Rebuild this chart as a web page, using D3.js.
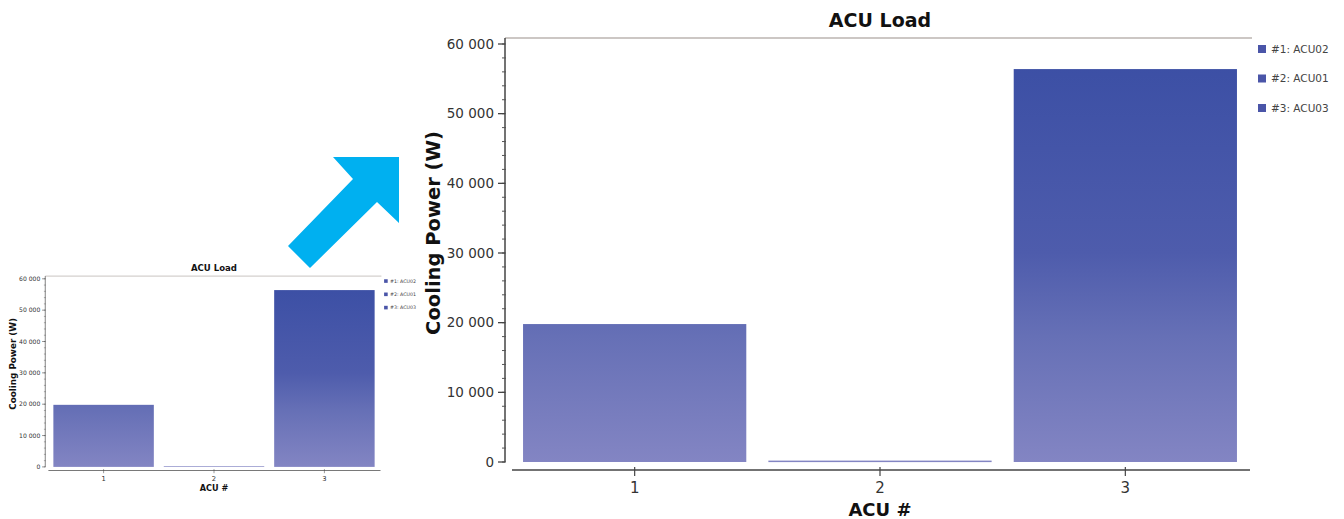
<!DOCTYPE html>
<html>
<head>
<meta charset="utf-8">
<script src="https://cdn.jsdelivr.net/npm/d3@7"></script>
<style>
  html, body { margin: 0; padding: 0; background: #fff; }
  svg { display: block; font-family: "DejaVu Sans", sans-serif; }
</style>
</head>
<body>
<svg id="chart" width="1344" height="519"></svg>
<script>
const categories = ["1", "2", "3"];
const coolingPower = [19800, 200, 56400];
const legendLabels = ["#1: ACU02", "#2: ACU01", "#3: ACU03"];
const yMax = 60000;
const chartTitle = "ACU Load";
const xTitle = "ACU #";
const yTitle = "Cooling Power (W)";

const svg = d3.select("#chart");
const locale = d3.formatLocale({ decimal: ".", thousands: " ", grouping: [3], currency: ["", ""] });
const fmt = locale.format(",d");

// gradient in user space so all bars share one ramp (like the original)
const defs = svg.append("defs");
const grad = defs.append("linearGradient")
  .attr("id", "barGrad")
  .attr("gradientUnits", "userSpaceOnUse")
  .attr("x1", 0).attr("x2", 0)
  .attr("y1", 44).attr("y2", 462);
grad.append("stop").attr("offset", 0).attr("stop-color", "#3a4ea4");
grad.append("stop").attr("offset", 0.5).attr("stop-color", "#4e5cac");
grad.append("stop").attr("offset", 0.7).attr("stop-color", "#6670b6");
grad.append("stop").attr("offset", 1).attr("stop-color", "#8385c3");

// chart drawn in the big chart's coordinates, the thumbnail is a scaled copy
function drawChart(g) {
  const axisX = 505, baseY = 470;
  const x = d3.scaleBand().domain(categories).range([512, 1248]).paddingInner(0.09).paddingOuter(0.045);
  const y = d3.scaleLinear().domain([0, yMax]).range([462, 44]);

  // top frame line
  g.append("line")
    .attr("x1", axisX).attr("x2", 1252)
    .attr("y1", 38).attr("y2", 38)
    .attr("stroke", "#9a908a").attr("stroke-width", 1.2);

  g.append("g").selectAll("rect")
    .data(coolingPower).enter()
    .append("rect")
    .attr("x", (d, i) => x(categories[i]))
    .attr("width", x.bandwidth())
    .attr("y", d => y(d))
    .attr("height", d => Math.max(1.5, y(0) - y(d)))
    .attr("fill", "url(#barGrad)");

  // y axis
  const yAxis = g.append("g").attr("transform", `translate(${axisX},0)`);
  yAxis.append("line").attr("y1", 38).attr("y2", y(0))
    .attr("stroke", "#444").attr("stroke-width", 1.5);
  yAxis.selectAll(".minor")
    .data(d3.range(0, yMax + 1, 2000)).enter()
    .append("line")
    .attr("x1", -3).attr("x2", 1)
    .attr("y1", d => y(d)).attr("y2", d => y(d))
    .attr("stroke", "#555").attr("stroke-width", 1);
  const majors = yAxis.selectAll(".major")
    .data(y.ticks(6)).enter()
    .append("g")
    .attr("transform", d => `translate(0,${y(d)})`);
  majors.append("line").attr("x1", -7).attr("x2", 0)
    .attr("stroke", "#444").attr("stroke-width", 1.3);
  majors.append("text")
    .attr("x", -11).attr("dy", "0.35em")
    .attr("text-anchor", "end")
    .attr("font-size", 13.5)
    .attr("fill", "#333")
    .text(d => fmt(d));

  // x axis
  const xAxis = g.append("g").attr("transform", `translate(0,${baseY})`);
  xAxis.append("line").attr("x1", 512).attr("x2", 1250)
    .attr("stroke", "#444").attr("stroke-width", 1.6);
  const xt = xAxis.selectAll(".tick")
    .data(categories).enter()
    .append("g")
    .attr("transform", d => `translate(${x(d) + x.bandwidth() / 2},0)`);
  xt.append("line").attr("y1", -3).attr("y2", 6)
    .attr("stroke", "#444").attr("stroke-width", 1.2);
  xt.append("text")
    .attr("y", 23)
    .attr("text-anchor", "middle")
    .attr("font-size", 15)
    .attr("fill", "#333")
    .text(d => d);

  g.append("text")
    .attr("x", 880).attr("y", 27)
    .attr("text-anchor", "middle")
    .attr("font-size", 19).attr("font-weight", "bold")
    .attr("fill", "#111")
    .text(chartTitle);
  g.append("text")
    .attr("x", 880).attr("y", 516)
    .attr("text-anchor", "middle")
    .attr("font-size", 18).attr("font-weight", "bold")
    .attr("fill", "#111")
    .text(xTitle);
  g.append("text")
    .attr("transform", "translate(440,233) rotate(-90)")
    .attr("text-anchor", "middle")
    .attr("font-size", 19.5).attr("font-weight", "bold")
    .attr("fill", "#111")
    .text(yTitle);

  // legend
  const leg = g.append("g").selectAll("g")
    .data(legendLabels).enter()
    .append("g")
    .attr("transform", (d, i) => `translate(1262,${49 + i * 29.5})`);
  leg.append("rect")
    .attr("x", -4).attr("y", -4).attr("width", 8).attr("height", 8)
    .attr("fill", "#4a55a8");
  leg.append("text")
    .attr("x", 9).attr("dy", "0.35em")
    .attr("font-size", 10.5)
    .attr("fill", "#444")
    .text(d => d);
}

drawChart(svg.append("g").attr("class", "big"));
drawChart(svg.append("g").attr("class", "thumb")
  .attr("transform", "translate(-182,259) scale(0.45)"));

// blue arrow pointing from the thumbnail to the big chart
svg.append("path")
  .attr("d", "M333,157 L399,157 L399,223 L377,202 L310,268 L288,246 L353,179 Z")
  .attr("fill", "#00b0f0");
</script>
</body>
</html>
